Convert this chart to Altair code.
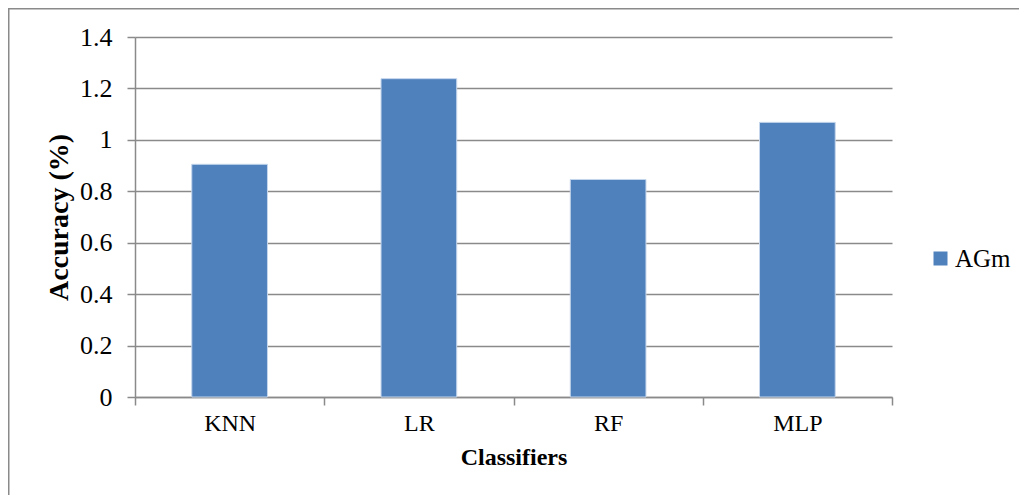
import altair as alt
import pandas as pd

classifiers = ["KNN", "LR", "RF", "MLP"]
accuracy = [0.905, 1.238, 0.846, 1.068]
series_name = ["AGm", "AGm", "AGm", "AGm"]
y_ticks = [0, 0.2, 0.4, 0.6, 0.8, 1.0, 1.2, 1.4]

df = pd.DataFrame({"Classifier": classifiers, "Accuracy": accuracy, "Series": series_name})

FONT = "Liberation Serif"
GRID = "#8a8a8a"

bars = alt.Chart(df).mark_bar(
    width=alt.RelativeBandSize(0.4), stroke="#c5d6ec", strokeWidth=1
).encode(
    x=alt.X("Classifier:N", sort=classifiers,
            scale=alt.Scale(paddingInner=0, paddingOuter=0),
            axis=alt.Axis(title="Classifiers", labelAngle=0, tickBand="extent",
                          grid=False, domainColor=GRID, domainWidth=1.5,
                          tickColor=GRID, tickWidth=1.5, tickSize=8,
                          labelFont=FONT, labelFontSize=24, labelColor="#000",
                          labelPadding=6, titleFont=FONT, titleFontSize=24,
                          titleFontWeight="bold", titleColor="#000", titlePadding=10)),
    y=alt.Y("Accuracy:Q", scale=alt.Scale(domain=[0, 1.4], nice=False),
            axis=alt.Axis(title="Accuracy (%)", values=y_ticks, format=".2~f",
                          grid=True, gridColor=GRID, gridWidth=1.5,
                          domainColor=GRID, domainWidth=1.5,
                          tickColor=GRID, tickWidth=1.5, tickSize=8,
                          labelFont=FONT, labelFontSize=26, labelColor="#000",
                          labelPadding=15, titleFont=FONT, titleFontSize=28,
                          titleFontWeight="bold", titleColor="#000", titlePadding=6)),
    color=alt.Color("Series:N", scale=alt.Scale(range=["#4F81BD"]),
                    legend=alt.Legend(title=None, orient="none", legendX=793, legendY=209,
                                      symbolType="square", symbolSize=196, symbolStrokeWidth=0,
                                      labelFont=FONT, labelFontSize=25, labelColor="#000",
                                      labelOffset=2, padding=0)),
)

border = alt.Chart(pd.DataFrame({"b": [0]})).mark_rect(
    fill=None, stroke="#8a8a8a", strokeWidth=1.5
).encode(
    x=alt.value(-126.25), x2=alt.value(1000),
    y=alt.value(-28.25), y2=alt.value(700),
)

chart = alt.layer(border, bars).properties(
    width=757, height=360,
    autosize=alt.AutoSizeParams(type="none"),
    padding={"left": 127, "top": 29, "right": 127, "bottom": 98},
).configure_view(stroke=None)

chart.save("out.html", embed_options={"renderer": "svg", "actions": False})
